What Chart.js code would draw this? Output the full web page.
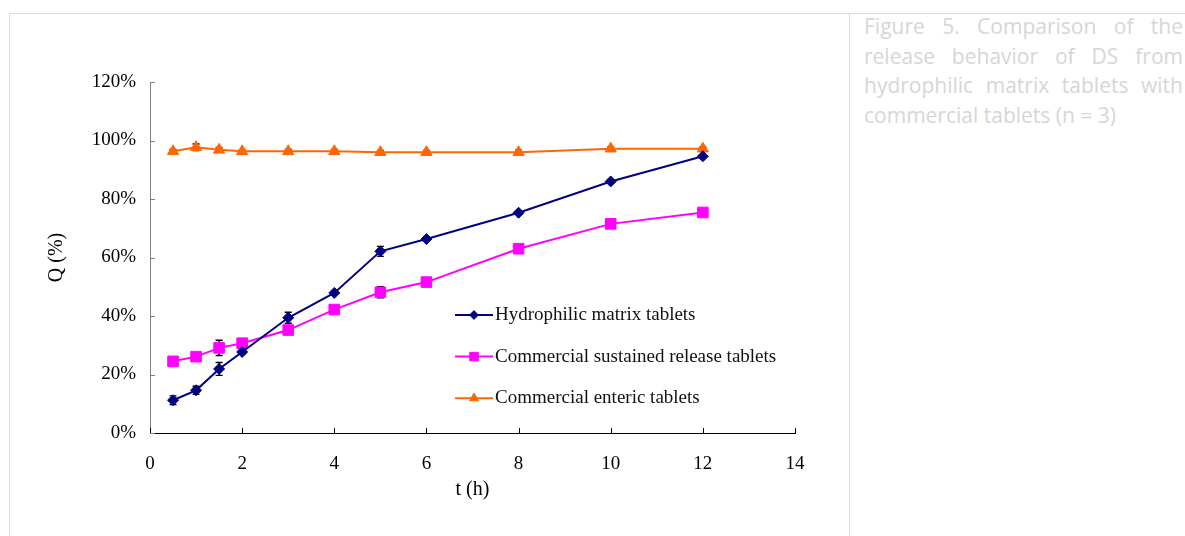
<!DOCTYPE html>
<html>
<head>
<meta charset="utf-8">
<script src="https://cdn.jsdelivr.net/npm/chart.js@4.4.1/dist/chart.umd.min.js"></script>
<style>
  html, body { margin: 0; padding: 0; background: #fff; width: 1185px; height: 536px; overflow: hidden; }
  .frame { position: absolute; left: 9px; top: 13px; width: 1180px; height: 600px;
           border-top: 1px solid #dadada; border-left: 1px solid #dadada; }
  .sep { position: absolute; left: 849px; top: 13px; width: 1px; height: 600px; background: #dadada; }
  .caption { position: absolute; left: 864px; top: 12px; width: 319px;
             font-family: "Open Sans", sans-serif; font-size: 21px; line-height: 29.7px; color: #d6d6d6; }
  .caption div { text-align: justify; text-align-last: justify; white-space: nowrap; }
  .caption div.last { text-align-last: left; }
  #chart { position: absolute; left: 0; top: 0; }
</style>
</head>
<body>
<div class="frame"></div>
<div class="sep"></div>
<div class="caption">
  <div>Figure 5. Comparison of the</div>
  <div>release behavior of DS from</div>
  <div>hydrophilic matrix tablets with</div>
  <div class="last">commercial tablets (n = 3)</div>
</div>
<canvas id="chart" width="1185" height="536"></canvas>
<script>
// Sampling times (h)
const hours = [0.5, 1, 1.5, 2, 3, 4, 5, 6, 8, 10, 12];

// Cumulative release Q (%) and standard deviations
const hydrophilic   = [11.2, 14.6, 21.9, 27.7, 39.4, 47.9, 62.1, 66.3, 75.3, 86.0, 94.6];
const hydrophilicSD = [1.5, 1.4, 2.2, 0.7, 1.9, 0.5, 1.7, 0.5, 0.5, 0.5, 0.5];

const sustained     = [24.5, 26.1, 29.1, 30.7, 35.2, 42.2, 48.1, 51.6, 63.0, 71.5, 75.4];
const sustainedSD   = [0.6, 0.6, 2.6, 0.5, 0.6, 0.5, 1.9, 0.5, 0.5, 0.5, 0.5];

const enteric       = [96.3, 97.7, 96.8, 96.3, 96.3, 96.3, 96.0, 96.0, 96.0, 97.2, 97.2];
const entericSD     = [0.6, 1.1, 0.8, 0.5, 0.6, 0.6, 0.6, 0.6, 0.7, 0.6, 0.6];

const seriesNames = [
  'Hydrophilic matrix tablets',
  'Commercial sustained release tablets',
  'Commercial enteric tablets'
];

// Axis ticks
const xTicks = [0, 2, 4, 6, 8, 10, 12, 14];
const yTicks = [0, 20, 40, 60, 80, 100, 120];

const SERIF = '"Liberation Serif", "Times New Roman", serif';

function toPoints(values) {
  return hours.map((t, i) => ({ x: t, y: values[i] }));
}

// Vertical error bars with caps, drawn beneath the series markers
const errorBarPlugin = {
  id: 'errorBars',
  beforeDatasetsDraw(chart) {
    const { ctx, scales: { x, y } } = chart;
    ctx.save();
    ctx.strokeStyle = '#000';
    ctx.lineWidth = 1.4;
    chart.data.datasets.forEach(ds => {
      if (!ds.errors) return;
      ds.data.forEach((p, i) => {
        const e = ds.errors[i];
        const px = x.getPixelForValue(p.x);
        const yTop = y.getPixelForValue(p.y + e);
        const yBot = y.getPixelForValue(p.y - e);
        const cap = 3.5;
        ctx.beginPath();
        ctx.moveTo(px, yTop); ctx.lineTo(px, yBot);
        ctx.moveTo(px - cap, yTop); ctx.lineTo(px + cap, yTop);
        ctx.moveTo(px - cap, yBot); ctx.lineTo(px + cap, yBot);
        ctx.stroke();
      });
    });
    ctx.restore();
  }
};

// Inward tick marks on both axes
const innerTicksPlugin = {
  id: 'innerTicks',
  afterDraw(chart) {
    const { ctx, chartArea, scales: { x, y } } = chart;
    const len = 5;
    ctx.save();
    ctx.lineWidth = 1;
    ctx.strokeStyle = '#808080';
    y.ticks.forEach(t => {
      const py = Math.round(y.getPixelForValue(t.value)) + 0.5;
      ctx.beginPath();
      ctx.moveTo(chartArea.left, py);
      ctx.lineTo(chartArea.left + len, py);
      ctx.stroke();
    });
    ctx.strokeStyle = '#000';
    x.ticks.forEach(t => {
      const px = Math.round(x.getPixelForValue(t.value)) + 0.5;
      ctx.beginPath();
      ctx.moveTo(px, chartArea.bottom);
      ctx.lineTo(px, chartArea.bottom - len);
      ctx.stroke();
    });
    ctx.restore();
  }
};

// Legend drawn inside the plot area
const innerLegendPlugin = {
  id: 'innerLegend',
  afterDraw(chart, args, opts) {
    const { ctx } = chart;
    ctx.save();
    chart.data.datasets.forEach((ds, i) => {
      const yy = opts.y + i * opts.gap;
      ctx.strokeStyle = ds.borderColor;
      ctx.lineWidth = ds.borderWidth;
      ctx.beginPath();
      ctx.moveTo(opts.x, yy);
      ctx.lineTo(opts.x + opts.lineLength, yy);
      ctx.stroke();
      ctx.fillStyle = ds.pointBackgroundColor;
      ctx.strokeStyle = ds.pointBorderColor;
      ctx.lineWidth = 1;
      Chart.helpers.drawPoint(ctx, {
        pointStyle: ds.pointStyle,
        radius: ds.pointRadius * opts.markerScale,
        borderWidth: 1
      }, opts.x + opts.lineLength / 2, yy);
      ctx.fillStyle = '#111';
      ctx.font = opts.font;
      ctx.textBaseline = 'middle';
      ctx.textAlign = 'left';
      ctx.fillText(ds.label, opts.x + opts.lineLength + 2, yy);
    });
    ctx.restore();
  }
};

const colors = ['#000080', '#FF00FF', '#FF6600'];
const styles = ['rectRot', 'rect', 'triangle'];
const radii = [5.5, 7.5, 6.5];
const valueSets = [hydrophilic, sustained, enteric];
const errorSets = [hydrophilicSD, sustainedSD, entericSD];

const datasets = valueSets.map((vals, i) => ({
  label: seriesNames[i],
  data: toPoints(vals),
  errors: errorSets[i],
  borderColor: colors[i],
  backgroundColor: colors[i],
  pointBackgroundColor: colors[i],
  pointBorderColor: colors[i],
  pointStyle: styles[i],
  pointRadius: radii[i],
  pointBorderWidth: 1,
  borderWidth: 2,
  tension: 0,
  fill: false
}));

const chart = new Chart(document.getElementById('chart'), {
  type: 'line',
  data: { datasets },
  plugins: [errorBarPlugin, innerTicksPlugin, innerLegendPlugin],
  options: {
    responsive: false,
    animation: false,
    devicePixelRatio: 1,
    layout: { padding: { left: 0, top: 82, right: 390, bottom: 33 } },
    plugins: {
      legend: { display: false },
      tooltip: { enabled: false },
      innerLegend: { x: 455, y: 315, gap: 41.6, lineLength: 38, markerScale: 0.8,
                     font: '19px ' + SERIF }
    },
    scales: {
      x: {
        type: 'linear',
        min: 0, max: 14,
        afterBuildTicks(scale) { scale.ticks = xTicks.map(v => ({ value: v })); },
        afterFit(scale) { scale.height = 70; },
        grid: { display: false, drawTicks: false },
        border: { display: true, color: '#000', width: 1 },
        ticks: { color: '#000', padding: 20, font: { family: SERIF, size: 19 } },
        title: { display: true, text: 't (h)', color: '#000',
                 font: { family: SERIF, size: 20 }, padding: { top: 0, bottom: 1 } }
      },
      y: {
        type: 'linear',
        min: 0, max: 120,
        afterBuildTicks(scale) { scale.ticks = yTicks.map(v => ({ value: v })); },
        afterFit(scale) { scale.width = 150; },
        grid: { display: false, drawTicks: false },
        border: { display: true, color: '#808080', width: 1 },
        ticks: { color: '#000', padding: 14, font: { family: SERIF, size: 19 },
                 callback: v => v + '%' },
        title: { display: true, text: 'Q (%)', color: '#000',
                 font: { family: SERIF, size: 20 }, padding: { top: 45, bottom: 0 } }
      }
    }
  }
});
</script>
</body>
</html>
